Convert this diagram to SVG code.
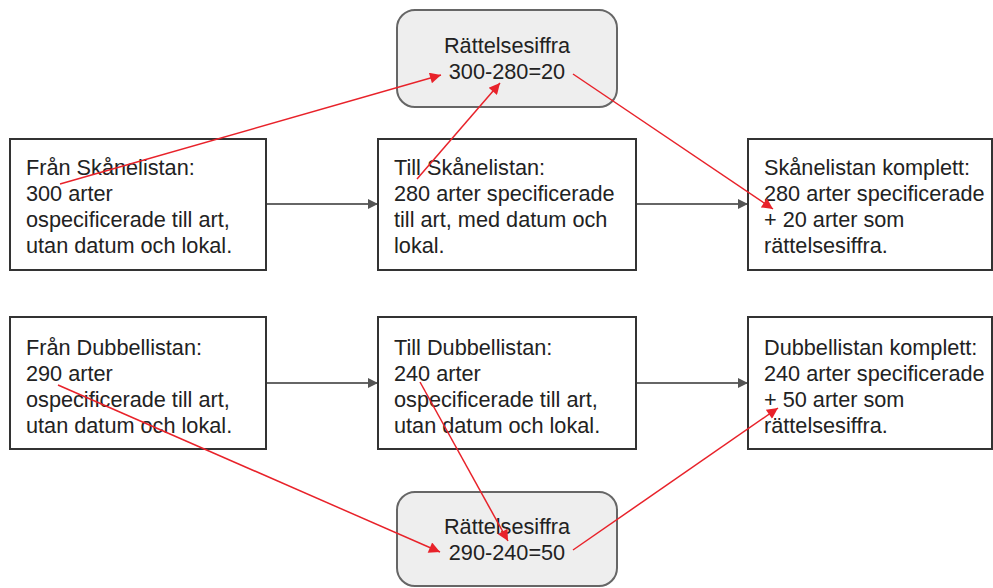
<svg xmlns="http://www.w3.org/2000/svg" width="993" height="588" viewBox="0 0 993 588">
<defs>
<style>
.box{fill:#fff;stroke:#333;stroke-width:2}
.rbox{fill:#eeeeee;stroke:#666;stroke-width:2}
.t{font-family:"Liberation Sans",Arial,sans-serif;font-size:21.7px;fill:#222}
.c{text-anchor:middle}
.g{stroke:#666;stroke-width:2;fill:none}
.r{stroke:#e8222a;stroke-width:1.5;fill:none}
</style>
<marker id="ag" viewBox="0 0 10 10" refX="10" refY="5" markerWidth="13" markerHeight="10" markerUnits="userSpaceOnUse" orient="auto"><path d="M0,0L10,5L0,10z" fill="#555"/></marker>
<marker id="ar" viewBox="0 0 10 10" refX="10" refY="5" markerWidth="14" markerHeight="11" markerUnits="userSpaceOnUse" orient="auto"><path d="M0,0L10,5L0,10z" fill="#e8222a"/></marker>
</defs>
<rect width="993" height="588" fill="#fff"/>
<g id="connectors">
<line class="g" x1="266" y1="204" x2="378" y2="204" marker-end="url(#ag)"/>
<line class="g" x1="636" y1="204" x2="748" y2="204" marker-end="url(#ag)"/>
<line class="g" x1="266" y1="383" x2="378" y2="383" marker-end="url(#ag)"/>
<line class="g" x1="636" y1="383" x2="748" y2="383" marker-end="url(#ag)"/>
</g>
<g id="top-correction"><rect class="rbox" x="397" y="10" width="220" height="97" rx="18"/><text class="t c" x="507" y="53">Rättelsesiffra</text><text class="t c" x="507" y="79">300-280=20</text></g>
<g id="fran-skane"><rect class="box" x="10" y="139" width="256" height="131"/><text class="t" x="26" y="175">Från Skånelistan:</text><text class="t" x="26" y="201">300 arter</text><text class="t" x="26" y="227">ospecificerade till art,</text><text class="t" x="26" y="253">utan datum och lokal.</text></g>
<g id="till-skane"><rect class="box" x="378" y="139" width="258" height="131"/><text class="t" x="394" y="175">Till Skånelistan:</text><text class="t" x="394" y="201">280 arter specificerade</text><text class="t" x="394" y="227">till art, med datum och</text><text class="t" x="394" y="253">lokal.</text></g>
<g id="skane-komplett"><rect class="box" x="748" y="139" width="244" height="131"/><text class="t" x="764" y="175">Skånelistan komplett:</text><text class="t" x="764" y="201">280 arter specificerade</text><text class="t" x="764" y="227">+ 20 arter som</text><text class="t" x="764" y="253">rättelsesiffra.</text></g>
<g id="fran-dubbel"><rect class="box" x="10" y="317" width="256" height="132"/><text class="t" x="26" y="355">Från Dubbellistan:</text><text class="t" x="26" y="381">290 arter</text><text class="t" x="26" y="407">ospecificerade till art,</text><text class="t" x="26" y="433">utan datum och lokal.</text></g>
<g id="till-dubbel"><rect class="box" x="378" y="317" width="258" height="132"/><text class="t" x="394" y="355">Till Dubbellistan:</text><text class="t" x="394" y="381">240 arter</text><text class="t" x="394" y="407">ospecificerade till art,</text><text class="t" x="394" y="433">utan datum och lokal.</text></g>
<g id="dubbel-komplett"><rect class="box" x="748" y="317" width="244" height="132"/><text class="t" x="764" y="355">Dubbellistan komplett:</text><text class="t" x="764" y="381">240 arter specificerade</text><text class="t" x="764" y="407">+ 50 arter som</text><text class="t" x="764" y="433">rättelsesiffra.</text></g>
<g id="bottom-correction"><rect class="rbox" x="397" y="492" width="220" height="94" rx="18"/><text class="t c" x="507" y="534">Rättelsesiffra</text><text class="t c" x="507" y="560">290-240=50</text></g>
<g id="red-connectors">
<line class="r" x1="60" y1="184" x2="441" y2="75" marker-end="url(#ar)"/>
<line class="r" x1="417" y1="179" x2="500" y2="83" marker-end="url(#ar)"/>
<line class="r" x1="573" y1="74" x2="773" y2="209" marker-end="url(#ar)"/>
<line class="r" x1="58" y1="385" x2="440" y2="552" marker-end="url(#ar)"/>
<line class="r" x1="420" y1="382" x2="508" y2="541" marker-end="url(#ar)"/>
<line class="r" x1="573" y1="550" x2="778" y2="408" marker-end="url(#ar)"/>
</g>
</svg>
